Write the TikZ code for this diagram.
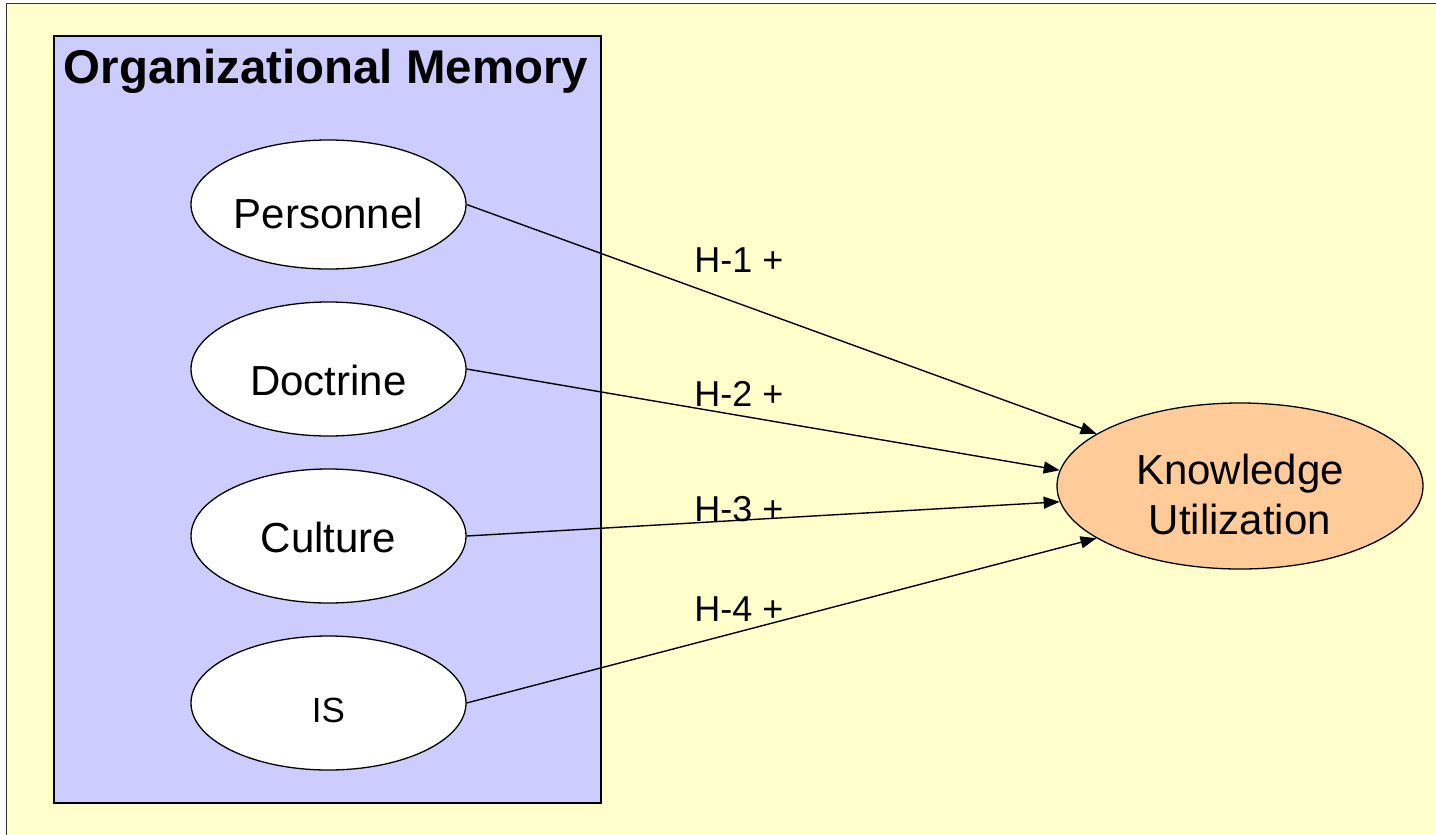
\documentclass[tikz,border=0pt]{standalone}
\usepackage{fontspec}
\setmainfont{Liberation Sans}
\usetikzlibrary{shapes.geometric,arrows.meta}

\definecolor{paper}{HTML}{FFFFCC}
\definecolor{memblue}{HTML}{CCCCFF}
\definecolor{kuorange}{HTML}{FFCC99}

\tikzset{
  oval/.style={ellipse, draw=black, line width=0.65bp, fill=white,
    minimum width=137.5bp, minimum height=67bp, inner sep=0pt,
    font=\fontsize{21bp}{25bp}\selectfont, text depth=0pt},
  kuoval/.style={ellipse, draw=black, line width=0.65bp, fill=kuorange,
    minimum width=183bp, minimum height=83bp, inner sep=0pt, align=center,
    font=\fontsize{21bp}{25bp}\selectfont},
  hyp/.style={anchor=base west, inner sep=0pt, font=\fontsize{18bp}{21bp}\selectfont},
  link/.style={line width=0.7bp, -{Triangle[length=8bp, width=6bp]}}
}

\begin{document}
\begin{tikzpicture}[x=0.5bp, y=-0.5bp]
  \clip (0,0) rectangle (1436,834);
  \fill[white] (0,0) rectangle (1436,834);

  % page frame, open to the right and bottom
  \draw[fill=paper, line width=0.75bp, draw=black!80] (6.5,3.5) rectangle (1460,860);

  % organizational memory panel
  \draw[fill=memblue, line width=1bp] (53.5,35.5) rectangle (601,802.5);
  \node[anchor=base, inner sep=0pt, font=\fontsize{23.7bp}{28bp}\selectfont\bfseries]
    (omtitle) at (326,83) {Organizational Memory};

  % memory components
  \node[oval, minimum height=64.5bp, text height=24bp] (pers) at (328.5,204.5) {Personnel};
  \node[oval, text height=26bp] (doct) at (328.5,369) {Doctrine};
  \node[oval, text height=16bp] (cult) at (328.5,536) {Culture};
  \node[oval, text height=19bp, font=\fontsize{17.5bp}{21bp}\selectfont] (is) at (328.5,703) {IS};

  % outcome
  \node[kuoval] (ku) at (1240,486) {\rule{0pt}{23.3bp}Knowledge\\Utilization};

  % hypothesised effects
  \draw[link] (pers.east) -- (ku.160);
  \draw[link] (doct.east) -- (ku.175);
  \draw[link] (cult.east) -- (ku.185);
  \draw[link] (is.east) -- (ku.200);

  \node[hyp] (h1) at (694,272) {H-1 +};
  \node[hyp] (h2) at (694,406) {H-2 +};
  \node[hyp] (h3) at (694,521) {H-3 +};
  \node[hyp] (h4) at (694,621) {H-4 +};
\end{tikzpicture}
\end{document}
